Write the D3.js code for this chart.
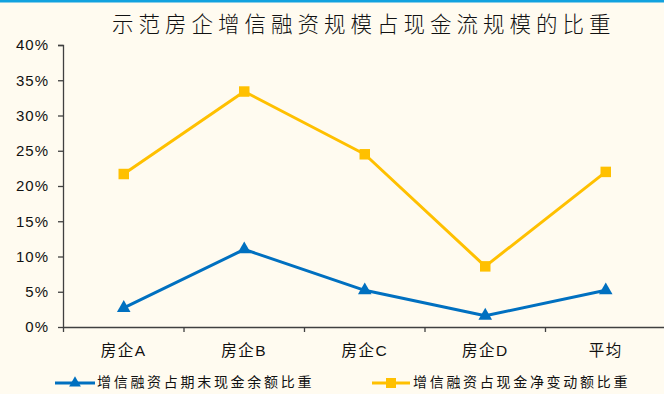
<!DOCTYPE html>
<html>
<head>
<meta charset="utf-8">
<script src="https://cdn.jsdelivr.net/npm/d3@7"></script>
<style>
  html, body { margin: 0; padding: 0; background: #fffbf0; }
  svg { display: block; }
</style>
</head>
<body>
<div id="chart"></div>
<script>
const title = '示范房企增信融资规模占现金流规模的比重';
const categories = ['房企A', '房企B', '房企C', '房企D', '平均'];
const seriesNames = ['增信融资占期末现金余额比重', '增信融资占现金净变动额比重'];
const cashBalanceShare = [0.027, 0.110, 0.052, 0.016, 0.052];
const netChangeShare = [0.217, 0.334, 0.245, 0.086, 0.220];
const yTicks = [0, 0.05, 0.10, 0.15, 0.20, 0.25, 0.30, 0.35, 0.40];

const width = 664;
const height = 394;
const margin = { top: 45, right: -2, bottom: 67, left: 63 };
const blue = '#0070c0';
const yellow = '#ffc000';
const axisColor = '#404040';
const font = '"Liberation Sans", Arial, "Noto Sans CJK SC", sans-serif';

const svg = d3.select('#chart').append('svg')
  .attr('width', width)
  .attr('height', height)
  .style('background', '#fffbf0');

// top accent bar
svg.append('rect')
  .attr('x', 0).attr('y', 0)
  .attr('width', width).attr('height', 2.5)
  .attr('fill', '#12a2df');

svg.append('text')
  .attr('x', 112)
  .attr('y', 22)
  .attr('dominant-baseline', 'central')
  .attr('font-family', '"Noto Sans CJK SC", sans-serif')
  .attr('font-size', 21.5)
  .attr('font-weight', 300)
  .attr('letter-spacing', 5)
  .attr('fill', '#111')
  .text(title);

const innerW = width - margin.left - margin.right;
const innerH = height - margin.top - margin.bottom;
const g = svg.append('g').attr('transform', `translate(${margin.left},${margin.top})`);

const x = d3.scaleBand().domain(categories).range([0.5, innerW]);
const y = d3.scaleLinear().domain([0, 0.4]).range([innerH, 0]);

const yAxis = g.append('g')
  .call(d3.axisLeft(y).tickValues(yTicks).tickFormat(d3.format('.0%')).tickSize(5).tickPadding(9))
  .call(a => a.selectAll('path, line').attr('stroke', axisColor).attr('stroke-width', 1.3))
  .call(a => a.selectAll('text')
    .attr('font-family', font)
    .attr('font-size', 15)
    .attr('letter-spacing', 1)
    .attr('fill', '#111'));
yAxis.select('.domain').attr('d', `M-5,0.5H0.5V${innerH}`);

g.append('g')
  .attr('transform', `translate(0,${innerH})`)
  .call(d3.axisBottom(x).tickSize(0).tickPadding(18))
  .call(a => a.select('.domain').attr('stroke', axisColor).attr('stroke-width', 1.6))
  .call(a => a.selectAll('text')
    .attr('font-family', font)
    .attr('font-size', 15.5)
    .attr('letter-spacing', 1.5)
    .attr('fill', '#111'));

// category separator ticks
g.append('g')
  .selectAll('line')
  .data(categories)
  .join('line')
  .attr('x1', d => x(d))
  .attr('x2', d => x(d))
  .attr('y1', innerH)
  .attr('y2', innerH + 5)
  .attr('stroke', axisColor)
  .attr('stroke-width', 1.3);

const line = d3.line()
  .x((d, i) => x(categories[i]) + x.bandwidth() / 2)
  .y(d => y(d));

const series = [
  { name: seriesNames[0], values: cashBalanceShare, color: blue, symbol: d3.symbolTriangle, size: 80 },
  { name: seriesNames[1], values: netChangeShare, color: yellow, symbol: d3.symbolSquare, size: 110 }
];

series.forEach(s => {
  g.append('path')
    .datum(s.values)
    .attr('fill', 'none')
    .attr('stroke', s.color)
    .attr('stroke-width', 3)
    .attr('stroke-linejoin', 'round')
    .attr('d', line);

  g.append('g')
    .selectAll('path')
    .data(s.values)
    .join('path')
    .attr('transform', (d, i) => `translate(${x(categories[i]) + x.bandwidth() / 2},${y(d)})`)
    .attr('d', d3.symbol(s.symbol, s.size))
    .attr('fill', s.color);
});

// legend
const legendItems = [
  { x0: 55, x1: 95, tx: 97, s: series[0] },
  { x0: 372, x1: 410, tx: 413, s: series[1] }
];
const legend = svg.append('g');
legendItems.forEach(it => {
  const ly = 383;
  legend.append('line')
    .attr('x1', it.x0).attr('x2', it.x1)
    .attr('y1', ly).attr('y2', ly)
    .attr('stroke', it.s.color)
    .attr('stroke-width', 3);
  legend.append('path')
    .attr('transform', `translate(${(it.x0 + it.x1) / 2},${ly})`)
    .attr('d', d3.symbol(it.s.symbol, it.s.symbol === d3.symbolSquare ? 100 : 60))
    .attr('fill', it.s.color);
  legend.append('text')
    .attr('x', it.tx)
    .attr('y', ly - 1)
    .attr('dominant-baseline', 'central')
    .attr('font-family', font)
    .attr('font-size', 14)
    .attr('letter-spacing', 2.7)
    .attr('fill', '#111')
    .text(it.s.name);
});
</script>
</body>
</html>
